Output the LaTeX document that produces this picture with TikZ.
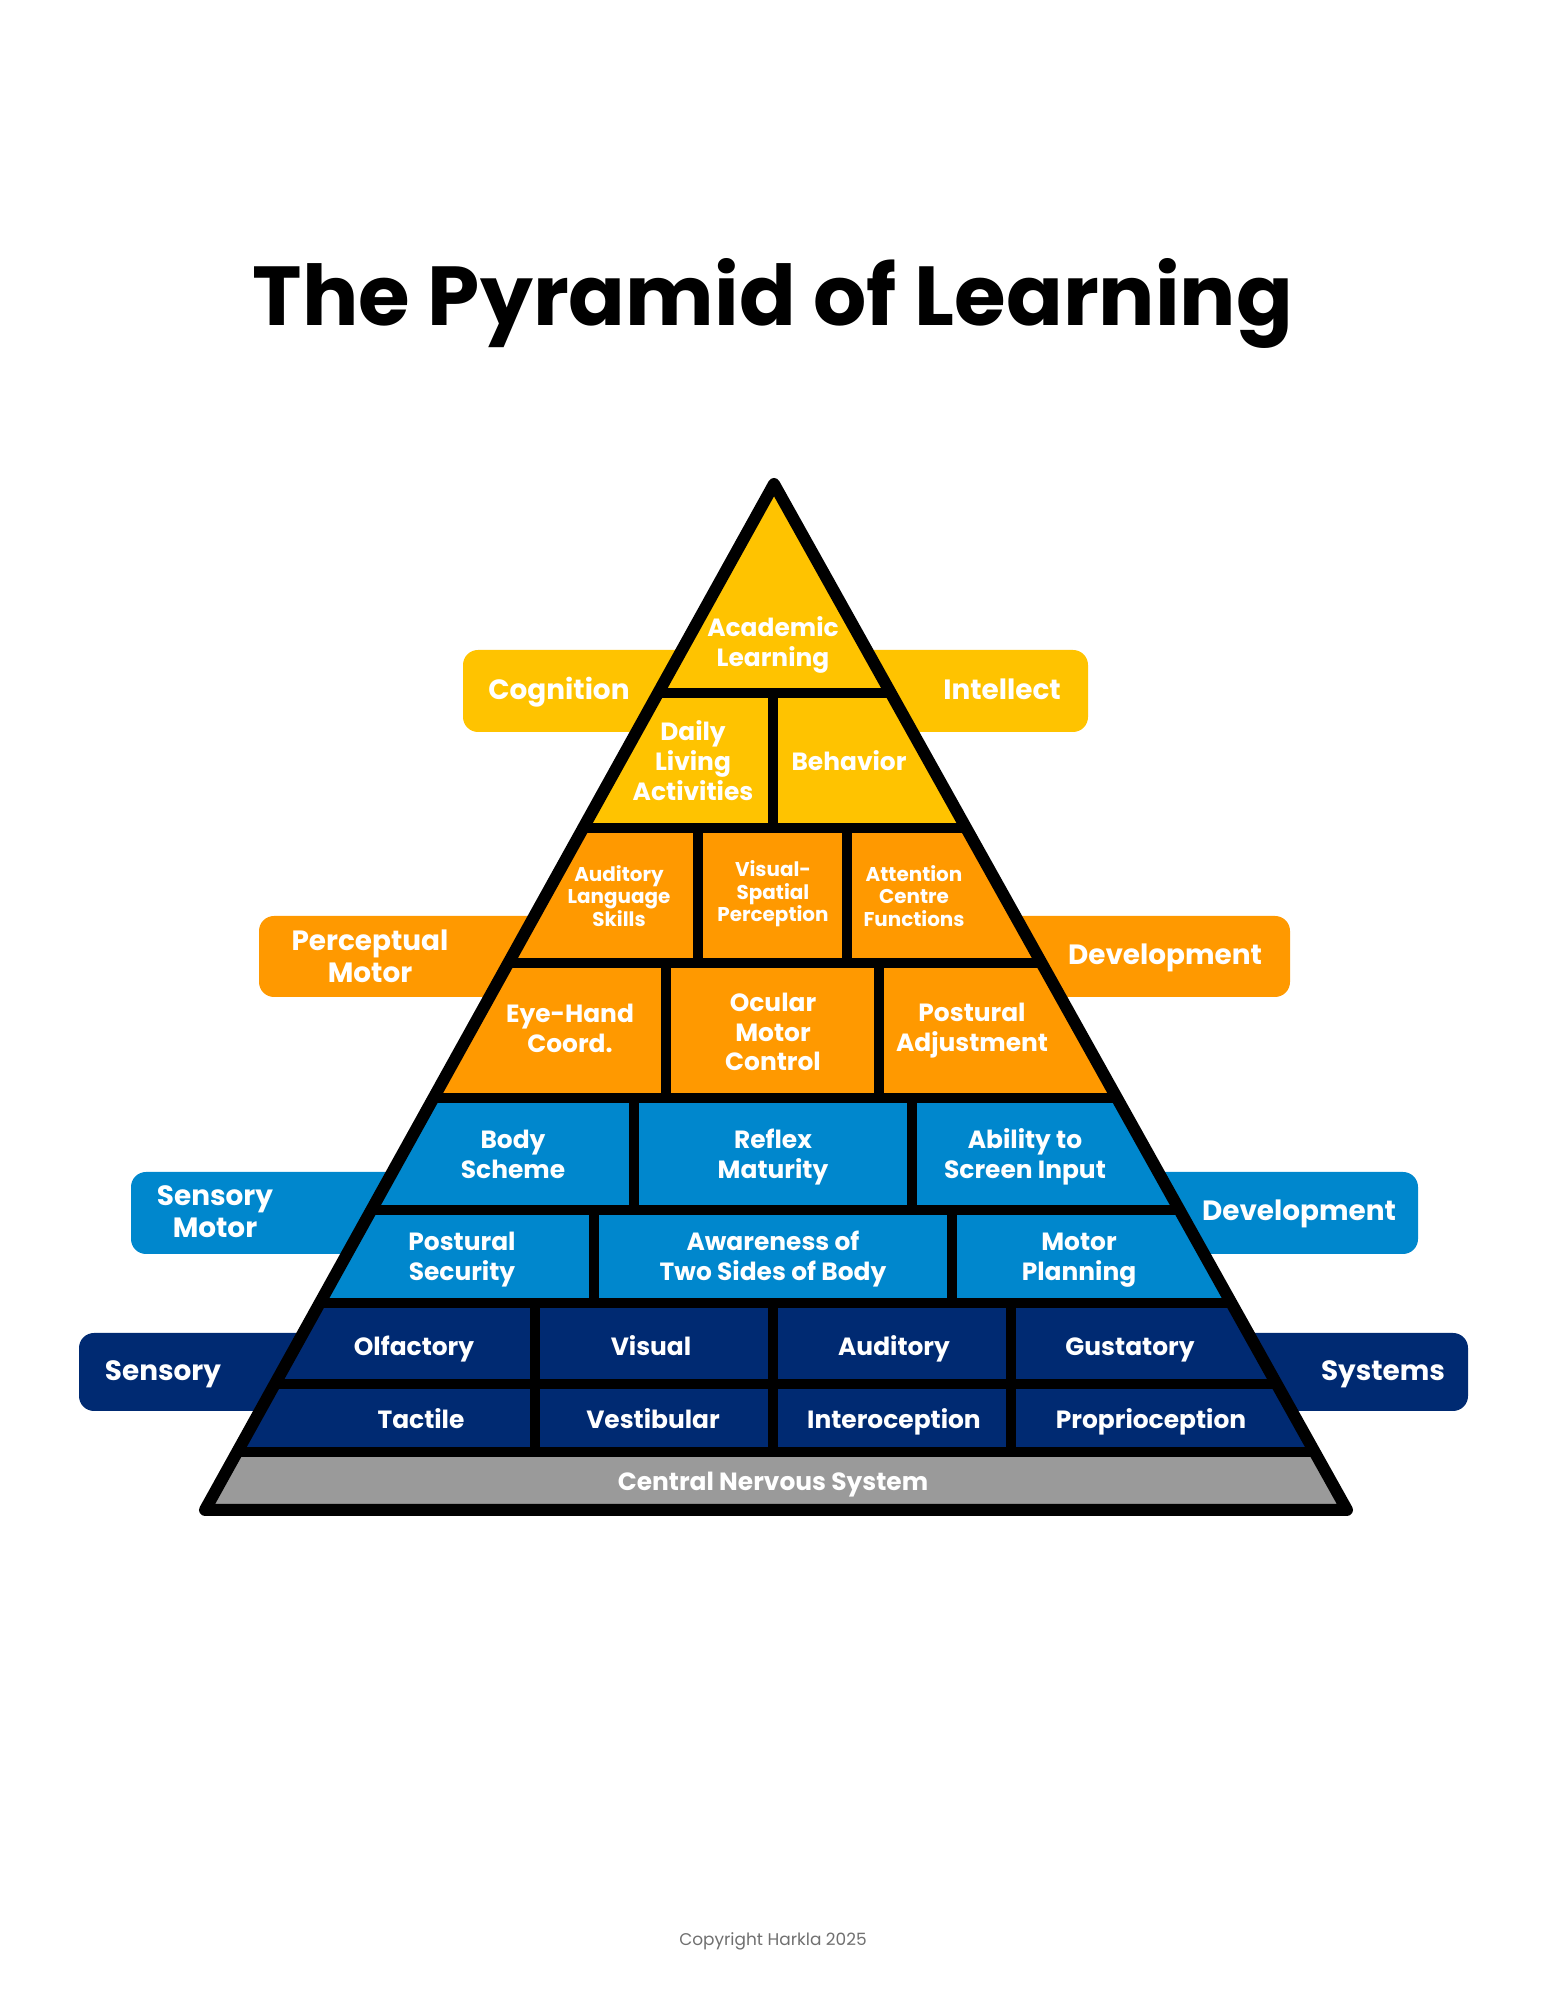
\documentclass[tikz,border=0pt]{standalone}
\usepackage{fontspec}
\setmainfont{Poppins}
\definecolor{pyryellow}{HTML}{FFC300}
\definecolor{pyrorange}{HTML}{FF9900}
\definecolor{pyrblue}{HTML}{0087CD}
\definecolor{pyrnavy}{HTML}{002A72}
\definecolor{pyrgray}{HTML}{9A9A9A}
\definecolor{copygray}{HTML}{707070}
\newcommand{\cellfont}{\fontsize{25}{30}\selectfont\bfseries}
\newcommand{\smallcellfont}{\fontsize{20}{22.5}\selectfont\bfseries}
\newcommand{\sidefont}{\fontsize{28}{32}\selectfont\bfseries}
\newcommand{\pyrtitlefont}{\fontsize{84}{90}\selectfont\bfseries}
\tikzset{
  cell/.style={text=white,font=\cellfont,align=center,inner sep=0bp},
  smallcell/.style={cell,font=\smallcellfont},
  sidelabel/.style={text=white,font=\sidefont,align=center,inner sep=0bp},
  oneline/.style={text height=0.7em,text depth=0em},
  band/.style={rounded corners=15bp},
  rule/.style={line width=10.5bp},
}
\begin{document}
\begin{tikzpicture}[line join=round,]
\useasboundingbox (0bp,0bp) rectangle (1545bp,2000bp);
%%
\node (node_title) at (773bp,1674bp) [anchor=base,font=\pyrtitlefont] {The Pyramid of Learning};
%% side bands
\fill [pyryellow,band] (463bp,1268bp) rectangle (1088bp,1350bp);
\fill [pyrorange,band] (259bp,1003bp) rectangle (1290bp,1084bp);
\fill [pyrblue,band] (131bp,746bp) rectangle (1418bp,828bp);
\fill [pyrnavy,band] (79bp,589bp) rectangle (1468bp,667bp);
%% pyramid
\coordinate (apex) at (774bp,1516bp);
\coordinate (base_l) at (205bp,490bp);
\coordinate (base_r) at (1347bp,490bp);
\begin{scope}
  \clip (apex) -- (base_l) -- (base_r) -- cycle;
  \fill [pyryellow] (0bp,1172bp) rectangle (1545bp,1540bp);
  \fill [pyrorange] (0bp,902bp) rectangle (1545bp,1172bp);
  \fill [pyrblue] (0bp,697bp) rectangle (1545bp,902bp);
  \fill [pyrnavy] (0bp,548bp) rectangle (1545bp,697bp);
  \fill [pyrgray] (0bp,470bp) rectangle (1545bp,548bp);
  \foreach \y in {1307,1172,1037,902,790,697,616,548}
    \draw [rule] (0bp,\y bp) -- (1545bp,\y bp);
  \foreach \x/\ya/\yb in {773/1172/1307,698/1037/1172,847/1037/1172,666/902/1037,879/902/1037,
      634/790/902,912/790/902,594/697/790,952/697/790,535/548/697,773/548/697,1011/548/697}
    \draw [rule] (\x bp,\ya bp) -- (\x bp,\yb bp);
\end{scope}
\draw [line width=12bp] (apex) -- (base_l) -- (base_r) -- cycle;
%% side labels
\node (node_cognition) at (559bp,1304bp) [sidelabel,oneline] {Cognition};
\node (node_intellect) at (1002bp,1304bp) [sidelabel,oneline] {Intellect};
\node (node_perceptual) at (370bp,1044bp) [sidelabel] {Perceptual\\Motor};
\node (node_pdevelop) at (1165bp,1039bp) [sidelabel,oneline] {Development};
\node (node_sensorymotor) at (215bp,788bp) [sidelabel] {Sensory\\Motor};
\node (node_sdevelop) at (1299bp,783bp) [sidelabel,oneline] {Development};
\node (node_sensory) at (163bp,623bp) [sidelabel,oneline] {Sensory};
\node (node_systems) at (1383bp,623bp) [sidelabel,oneline] {Systems};
%% cells
\node (node_academic) at (773bp,1355bp) [cell] {Academic\\Learning};
\node (node_daily) at (693bp,1239bp) [cell] {Daily\\Living\\Activities};
\node (node_behavior) at (849bp,1233bp) [cell,oneline] {Behavior};
\node (node_auditorylang) at (619bp,1104bp) [smallcell] {Auditory\\Language\\Skills};
\node (node_visualspatial) at (773bp,1106bp) [smallcell] {Visual-\\Spatial\\Perception};
\node (node_attention) at (914bp,1104bp) [smallcell] {Attention\\Centre\\Functions};
\node (node_eyehand) at (570bp,972bp) [cell] {Eye-Hand\\Coord.};
\node (node_ocular) at (773bp,968bp) [cell] {Ocular\\Motor\\Control};
\node (node_posturaladj) at (972bp,969bp) [cell] {Postural\\Adjustment};
\node (node_body) at (513bp,846bp) [cell] {Body\\Scheme};
\node (node_reflex) at (773bp,843bp) [cell] {Reflex\\Maturity};
\node (node_ability) at (1025bp,843bp) [cell] {Ability to\\Screen Input};
\node (node_posturalsec) at (462bp,740bp) [cell] {Postural\\Security};
\node (node_awareness) at (773bp,741bp) [cell] {Awareness of\\Two Sides of Body};
\node (node_motorplan) at (1079bp,740bp) [cell] {Motor\\Planning};
\node (node_olfactory) at (414bp,648bp) [cell,oneline] {Olfactory};
\node (node_visual) at (651bp,648bp) [cell,oneline] {Visual};
\node (node_auditory) at (894bp,648bp) [cell,oneline] {Auditory};
\node (node_gustatory) at (1130bp,648bp) [cell,oneline] {Gustatory};
\node (node_tactile) at (421bp,575bp) [cell,oneline] {Tactile};
\node (node_vestibular) at (653bp,575bp) [cell,oneline] {Vestibular};
\node (node_interoception) at (894bp,575bp) [cell,oneline] {Interoception};
\node (node_proprioception) at (1151bp,575bp) [cell,oneline] {Proprioception};
\node (node_cns) at (773bp,513bp) [cell,oneline] {Central Nervous System};
%%
\node (node_copyright) at (773bp,59bp) [text=copygray,font=\fontsize{17}{20}\selectfont] {Copyright Harkla 2025};
%
\end{tikzpicture}
\end{document}
